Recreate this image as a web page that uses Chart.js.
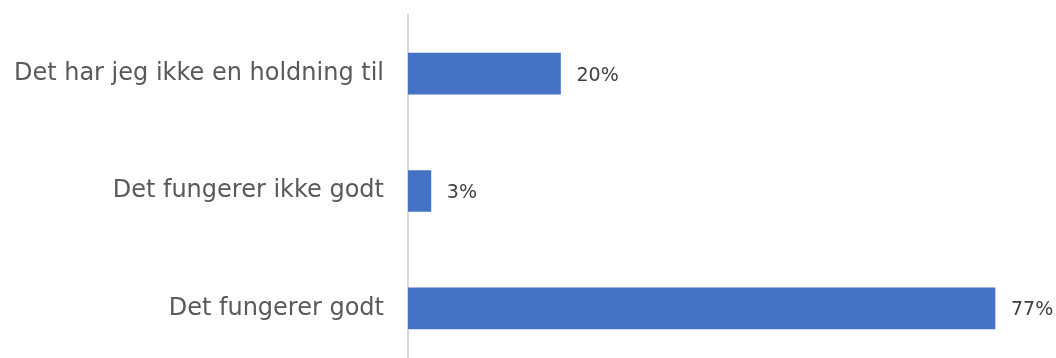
<!DOCTYPE html>
<html>
<head>
<meta charset="utf-8">
<script src="https://cdn.jsdelivr.net/npm/chart.js@4"></script>
<style>
  html, body { margin: 0; padding: 0; background: #fff; overflow: hidden; width: 1056px; height: 358px; }
  #wrap { width: 1056px; height: 367px; }
</style>
</head>
<body>
<div id="wrap"><canvas id="myChart" width="1056" height="367"></canvas></div>
<script>
const categories = ['Det har jeg ikke en holdning til', 'Det fungerer ikke godt', 'Det fungerer godt'];
const values = [20, 3, 77];
const valueLabels = ['20%', '3%', '77%'];

// tal ved enden af hver søjle
const endLabels = {
    id: 'endLabels',
    afterDatasetsDraw(chart) {
        const ctx = chart.ctx;
        const meta = chart.getDatasetMeta(0);
        ctx.save();
        ctx.font = '19px "DejaVu Sans"';
        ctx.fillStyle = '#404040';
        ctx.textAlign = 'left';
        ctx.textBaseline = 'middle';
        meta.data.forEach((bar, i) => {
            ctx.fillText(valueLabels[i], bar.x + 16, bar.y + 2);
        });
        ctx.restore();
    }
};

var ctx = document.getElementById('myChart').getContext('2d');
new Chart(ctx, {
    type: 'bar',
    data: {
        labels: categories,
        datasets: [{
            data: values,
            backgroundColor: '#4472C4',
            borderWidth: 0,
            barThickness: 41
        }]
    },
    options: {
        indexAxis: 'y',
        responsive: false,
        animation: false,
        layout: { padding: { top: 15, right: 0, bottom: 0, left: 0 } },
        plugins: {
            legend: { display: false },
            tooltip: { enabled: false }
        },
        scales: {
            x: {
                display: false,
                min: 0,
                max: 85
            },
            y: {
                afterFit: (scale) => {
                    scale.width = 408;
                    scale.paddingTop = 0;
                    scale.paddingBottom = 0;
                },
                grid: { display: false, drawTicks: false },
                border: { display: true, color: '#d9d9d9', width: 2 },
                ticks: {
                    padding: 24,
                    color: '#595959',
                    font: { family: '"DejaVu Sans"', size: 24 }
                }
            }
        }
    },
    plugins: [endLabels]
});
</script>
</body>
</html>
